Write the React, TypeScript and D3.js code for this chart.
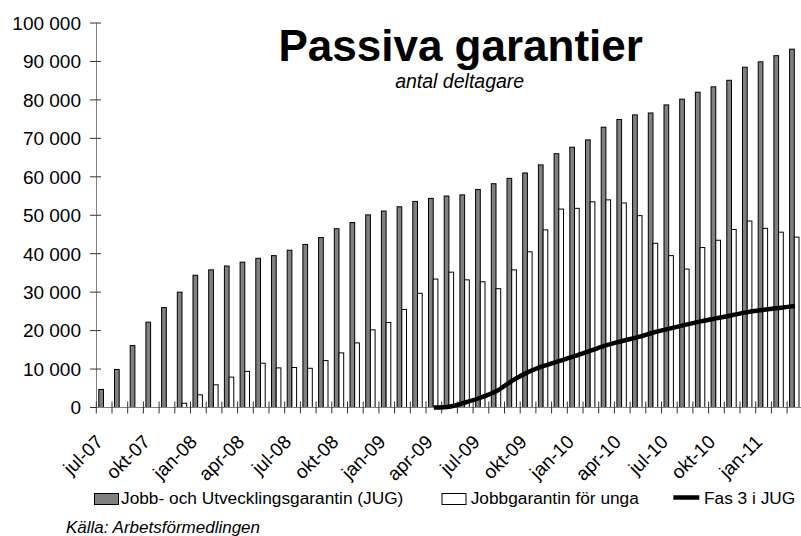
import React from "react";
import * as d3 from "d3";

const months = [
  "jul-07","aug-07","sep-07","okt-07","nov-07","dec-07",
  "jan-08","feb-08","mar-08","apr-08","maj-08","jun-08","jul-08","aug-08","sep-08","okt-08","nov-08","dec-08",
  "jan-09","feb-09","mar-09","apr-09","maj-09","jun-09","jul-09","aug-09","sep-09","okt-09","nov-09","dec-09",
  "jan-10","feb-10","mar-10","apr-10","maj-10","jun-10","jul-10","aug-10","sep-10","okt-10","nov-10","dec-10",
  "jan-11","feb-11","mar-11",
];

const jug = [4700, 9900, 16100, 22200, 26000, 30000, 34400, 35800, 36800, 37800, 38800, 39500, 40900, 42400, 44200,
  46500, 48100, 50100, 51100, 52200, 53600, 54400, 55000, 55300, 56700, 58200, 59600, 61000, 63100, 66000,
  67700, 69600, 72900, 74900, 76100, 76600, 78700, 80200, 82000, 83400, 85100, 88500, 89900, 91500, 93200];

const unga: (number | null)[] = [null, null, null, null, null, 1100, 3300, 5900, 7900, 9400, 11500, 10300, 10400, 10200,
  12200, 14200, 16800, 20200, 22100, 25500, 29700, 33400, 35200, 33200, 32700, 30900, 35800, 40500, 46200,
  51600, 51800, 53500, 54000, 53200, 49900, 42700, 39500, 36000, 41600, 43500, 46300, 48500, 46600, 45600, 44300];

const fas3: (number | null)[] = [null, null, null, null, null, null, null, null, null, null, null, null, null, null,
  null, null, null, null, null, null, null, 0, 200, 1300, 2600, 4300, 7000, 9200, 10800, 12100, 13400, 14800,
  16200, 17300, 18300, 19500, 20500, 21500, 22400, 23200, 24000, 24800, 25400, 25900, 26400];

const yTicks = [0, 10000, 20000, 30000, 40000, 50000, 60000, 70000, 80000, 90000, 100000];

const seriesNames = ["Jobb- och Utvecklingsgarantin (JUG)", "Jobbgarantin för unga", "Fas 3 i JUG"];
const title = "Passiva garantier";
const subtitle = "antal deltagare";
const source = "Källa: Arbetsförmedlingen";

const FONT = "'Liberation Sans', Arial, Helvetica, sans-serif";

export default function App() {
  const left = 96.3;
  const bandW = 15.7;
  const x = d3.scaleBand<number>()
    .domain(months.map((_, i) => i))
    .range([left, left + bandW * months.length])
    .paddingInner(0)
    .paddingOuter(0);
  const y = d3.scaleLinear().domain([0, 100000]).range([407.5, 23]);
  const fmt = (v: number) => d3.format(",")(v).replace(/,/g, " ");

  const lineGen = d3.line<[number, number | null]>()
    .defined((d) => d[1] !== null)
    .x((d) => (x(d[0]) as number) + bandW / 2)
    .y((d) => Math.min(y(0), y(d[1] as number)))
    .curve(d3.curveCatmullRom.alpha(0.5));
  const linePath = lineGen(fas3.map((v, i) => [i, v] as [number, number | null])) || "";

  const gray = "#808080";
  const base = y(0);

  return (
    <svg width={801} height={536} style={{ position: "absolute", left: 0, top: 0, background: "#fff" }}
      fontFamily={FONT}>
      <rect x={0} y={0} width={801} height={536} fill="#fff" />
      {/* title */}
      <text x={460.7} y={61} textAnchor="middle" fontSize={44} fontWeight="bold" fill="#000">{title}</text>
      <text x={459.7} y={87.5} textAnchor="middle" fontSize={19.5} fontStyle="italic" fill="#000">{subtitle}</text>

      {/* bars */}
      {jug.map((v, i) => (
        <rect key={"g" + i} x={(x(i) as number) + 2.5} y={y(v)} width={4.7} height={base - y(v)}
          fill={gray} stroke="#000" strokeWidth={1} />
      ))}
      {unga.map((v, i) => v === null ? null : (
        <rect key={"w" + i} x={(x(i) as number) + 7.2} y={y(v)} width={4.7} height={base - y(v)}
          fill="#fff" stroke="#000" strokeWidth={1} />
      ))}

      {/* y axis */}
      <line x1={96.5} x2={96.5} y1={y(100000)} y2={base} stroke={gray} strokeWidth={1} />
      {yTicks.map((t) => (
        <g key={"yt" + t}>
          <line x1={90} x2={101} y1={y(t)} y2={y(t)} stroke="#333" strokeWidth={1} />
          <text x={81} y={y(t)} dy="0.36em" textAnchor="end" fontSize={19} fill="#000">{fmt(t)}</text>
        </g>
      ))}

      {/* x axis */}
      <line x1={left} x2={801} y1={base} y2={base} stroke={gray} strokeWidth={1} />
      {months.map((_, i) => (
        <line key={"xt" + i} x1={x(i) as number} x2={x(i) as number} y1={base - 6} y2={base + 6}
          stroke="#333" strokeWidth={1} />
      ))}
      {months.map((m, i) => i % 3 !== 0 ? null : (
        <text key={"xl" + i} transform={`translate(${(x(i) as number) + bandW / 2},${443}) rotate(-45)`}
          textAnchor="end" fontSize={19} fill="#000">{m}</text>
      ))}

      {/* line */}
      <path d={linePath} fill="none" stroke="#000" strokeWidth={4.5} strokeLinejoin="round" />

      {/* legend */}
      <rect x={94.5} y={493.5} width={24} height={11} fill={gray} stroke="#000" strokeWidth={1} />
      <text x={121} y={504} fontSize={17.3} fill="#000">{seriesNames[0]}</text>
      <rect x={442} y={493.5} width={24} height={11} fill="#fff" stroke="#000" strokeWidth={1} />
      <text x={470.7} y={504} fontSize={17.3} fill="#000">{seriesNames[1]}</text>
      <line x1={673.3} x2={699.3} y1={497.5} y2={497.5} stroke="#000" strokeWidth={4.5} />
      <text x={704} y={504} fontSize={17.3} fill="#000">{seriesNames[2]}</text>

      {/* source */}
      <text x={66} y={532.5} fontSize={17} fontStyle="italic" fill="#000">{source}</text>
    </svg>
  );
}
